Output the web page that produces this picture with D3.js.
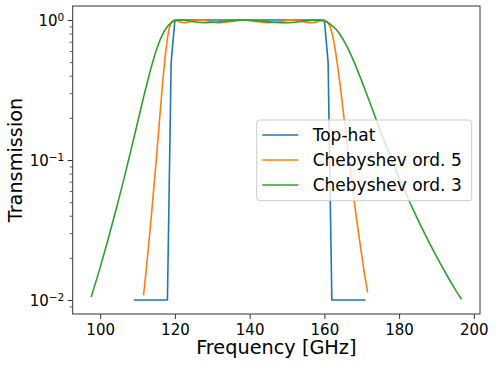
<!DOCTYPE html>
<html>
<head>
<meta charset="utf-8">
<script src="https://cdn.jsdelivr.net/npm/d3@7"></script>
<style>
  body { margin: 0; background: #fff; }
  text { font-family: "DejaVu Sans", sans-serif; fill: #000; }
</style>
</head>
<body>
<div id="chart"></div>
<script>
// series
const topHatFreq = [109, 118, 119, 120, 160, 161, 162, 171];
const topHatVal = [0.01, 0.01, 0.5, 1, 1, 0.5, 0.01, 0.01];

const cheb5Freq = [111.6, 112, 113, 114, 115, 116, 117, 118, 119, 119.9, 121, 122.5, 124, 126.6, 129, 132.1, 135, 138.4,
  142, 145.1, 148, 151.3, 154, 156.4, 158.3, 159.8, 161, 162, 163, 164, 165, 166, 167, 168, 169, 170, 171, 171.6];
const cheb5Val = [0.0108, 0.0135, 0.0252, 0.049, 0.0999, 0.210, 0.429, 0.738, 0.955, 1.0, 0.976, 0.955, 0.971, 1.0, 0.980, 0.955, 0.975, 1.0,
  0.974, 0.955, 0.974, 1.0, 0.978, 0.955, 0.975, 1.0, 0.955, 0.813, 0.593, 0.381, 0.229, 0.136, 0.0818, 0.0504, 0.032, 0.0208, 0.0139, 0.0113];

const cheb3Freq = [97.6, 100, 102, 104, 106, 108, 110, 112, 114, 116, 117, 118, 119, 120, 121.4, 123, 125, 128.3, 131, 134, 138.4,
  142, 146, 149.3, 152, 155, 157.8, 159.5, 161, 162, 163, 164, 166, 168, 170, 172, 174, 176, 178, 180, 182, 184, 186, 188, 190, 192, 194, 196, 196.7];
const cheb3Val = [0.0105, 0.0171, 0.0264, 0.0416, 0.067, 0.1105, 0.185, 0.309, 0.494, 0.716, 0.818, 0.899, 0.955, 0.987, 1.0, 0.991, 0.971, 0.955, 0.964, 0.983, 1.0,
  0.989, 0.965, 0.955, 0.963, 0.985, 1.0, 0.989, 0.955, 0.916, 0.865, 0.801, 0.651, 0.498, 0.366, 0.265, 0.190, 0.138, 0.101, 0.0747, 0.0562, 0.0428, 0.0331, 0.0259, 0.0205, 0.0164, 0.0132, 0.0108, 0.0101];

const seriesNames = ["Top-hat", "Chebyshev ord. 5", "Chebyshev ord. 3"];
const seriesColors = ["#1f77b4", "#ff7f0e", "#2ca02c"];

const xTicks = [100, 120, 140, 160, 180, 200];
const yTicks = [0.01, 0.1, 1];
const yTickExp = ["\u22122", "\u22121", "0"];
const yMinorTicks = [0.009, 0.02, 0.03, 0.04, 0.05, 0.06, 0.07, 0.08, 0.09, 0.2, 0.3, 0.4, 0.5, 0.6, 0.7, 0.8, 0.9];

const width = 496, height = 366;
const plotLeft = 72.7, plotRight = 480, plotTop = 6, plotBottom = 314;

let svg = d3.select("#chart")
  .append("svg")
  .attr("width", width)
  .attr("height", height);

let x = d3.scaleLinear().domain([92.65, 201.65]).range([plotLeft, plotRight]);
let y = d3.scaleLog().domain([Math.pow(10, -2.1), Math.pow(10, 0.1)]).range([plotBottom, plotTop]);

let series = [
  {freq: topHatFreq, val: topHatVal, curve: d3.curveLinear},
  {freq: cheb5Freq, val: cheb5Val, curve: d3.curveMonotoneX},
  {freq: cheb3Freq, val: cheb3Val, curve: d3.curveMonotoneX}
];

svg.append("defs").append("clipPath").attr("id", "plot")
  .append("rect")
  .attr("x", plotLeft).attr("y", plotTop)
  .attr("width", plotRight - plotLeft).attr("height", plotBottom - plotTop);

let plot = svg.append("g").attr("clip-path", "url(#plot)");

series.forEach(function(s, i) {
  let pts = s.freq.map(function(f, j) { return [f, s.val[j]]; });
  let line = d3.line()
    .x(function(d) { return x(d[0]); })
    .y(function(d) { return y(d[1]); })
    .curve(s.curve);
  plot.append("path")
    .datum(pts)
    .attr("d", line)
    .attr("fill", "none")
    .attr("stroke", seriesColors[i])
    .attr("stroke-width", 1.6)
    .attr("stroke-linejoin", "round");
});

// x axis
let xAxis = svg.append("g")
  .attr("transform", "translate(0," + plotBottom + ")")
  .call(d3.axisBottom(x).tickValues(xTicks).tickSize(5).tickPadding(5).tickFormat(d3.format("d")));
xAxis.select(".domain").remove();
xAxis.selectAll("line").attr("stroke", "#333");
xAxis.selectAll("text").attr("font-size", 15).attr("font-family", "DejaVu Sans").attr("fill", "#000");

// y axis, minor ticks first
let yMinor = svg.append("g")
  .attr("transform", "translate(" + plotLeft + ",0)")
  .call(d3.axisLeft(y).tickValues(yMinorTicks.filter(function(v) { return v >= y.domain()[0]; })).tickSize(3).tickFormat(""));
yMinor.select(".domain").remove();
yMinor.selectAll("line").attr("stroke", "#333").attr("stroke-width", 0.8);

let yAxis = svg.append("g")
  .attr("transform", "translate(" + plotLeft + ",0)")
  .call(d3.axisLeft(y).tickValues(yTicks).tickSize(5).tickFormat(""));
yAxis.select(".domain").remove();
yAxis.selectAll("line").attr("stroke", "#333");

yTicks.forEach(function(v, i) {
  let t = svg.append("text")
    .attr("x", 64.3)
    .attr("y", y(v) + 6)
    .attr("text-anchor", "end")
    .attr("font-size", 15);
  t.append("tspan").text("10");
  t.append("tspan").attr("dy", -5.5).attr("font-size", 10.5).text(yTickExp[i]);
});

// frame
svg.append("rect")
  .attr("x", plotLeft).attr("y", plotTop)
  .attr("width", plotRight - plotLeft).attr("height", plotBottom - plotTop)
  .attr("fill", "none")
  .attr("stroke", "#333")
  .attr("stroke-width", 1);

// axis labels
svg.append("text")
  .attr("x", (plotLeft + plotRight) / 2)
  .attr("y", 354)
  .attr("text-anchor", "middle")
  .attr("font-size", 19.3)
  .text("Frequency [GHz]");

svg.append("text")
  .attr("transform", "translate(22," + ((plotTop + plotBottom) / 2) + ") rotate(-90)")
  .attr("text-anchor", "middle")
  .attr("font-size", 19.3)
  .text("Transmission");

// legend
let legend = svg.append("g");
legend.append("rect")
  .attr("x", 256.7).attr("y", 120)
  .attr("width", 215).attr("height", 80.7)
  .attr("rx", 3)
  .attr("fill", "#fff").attr("fill-opacity", 0.8)
  .attr("stroke", "#ccc").attr("stroke-width", 1);

seriesNames.forEach(function(name, i) {
  let cy = 135 + i * 25;
  legend.append("line")
    .attr("x1", 262.3).attr("x2", 298.3)
    .attr("y1", cy).attr("y2", cy)
    .attr("stroke", seriesColors[i])
    .attr("stroke-width", 1.6);
  legend.append("text")
    .attr("x", 312.7)
    .attr("y", cy + 5.5)
    .attr("font-size", 17)
    .text(name);
});
</script>
</body>
</html>
